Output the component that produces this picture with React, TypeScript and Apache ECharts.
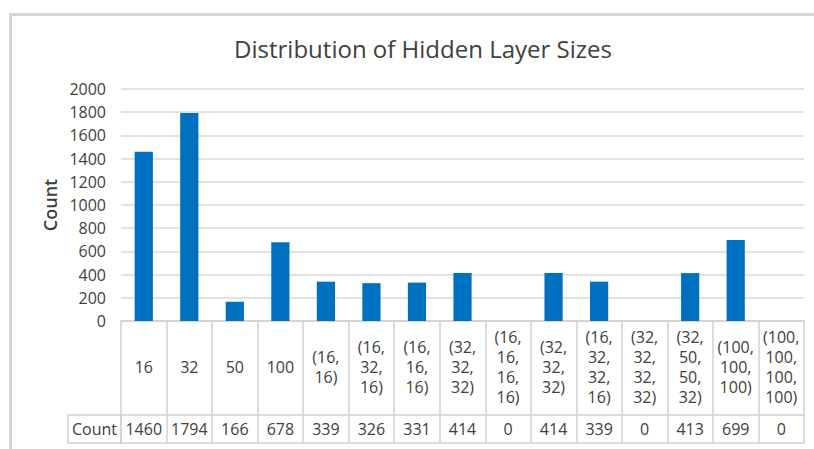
import React, { useEffect, useRef } from "react";
import * as echarts from "echarts";

const categories = [
  "16", "32", "50", "100",
  "(16,\n16)", "(16,\n32,\n16)", "(16,\n16,\n16)", "(32,\n32,\n32)",
  "(16,\n16,\n16,\n16)", "(32,\n32,\n32)", "(16,\n32,\n32,\n16)", "(32,\n32,\n32,\n32)",
  "(32,\n50,\n50,\n32)", "(100,\n100,\n100)", "(100,\n100,\n100,\n100)",
];
const counts = [1460, 1794, 166, 678, 339, 326, 331, 414, 0, 414, 339, 0, 413, 699, 0];
const seriesName = "Count";
const titleText = "Distribution of Hidden Layer Sizes";

const FONT = "'Open Sans', 'Noto Sans', sans-serif";
const TEXT = "#404040";
const LINE = "#d0d0d0";

export default function App() {
  const ref = useRef<HTMLDivElement>(null);
  useEffect(() => {
    if (!ref.current) return;
    const chart = echarts.init(ref.current, null, { renderer: "svg" });
    chart.setOption({
      animation: false,
      backgroundColor: "#ffffff",
      textStyle: { fontFamily: FONT },
      title: {
        text: titleText,
        left: 418,
        textAlign: "center",
        top: 31,
        textStyle: { fontSize: 24, fontWeight: "normal", color: TEXT, fontFamily: FONT },
      },
      grid: { left: 121, right: 10, top: 89, bottom: 128, containLabel: false },
      yAxis: {
        type: "value",
        min: 0,
        max: 2000,
        interval: 200,
        name: seriesName,
        nameLocation: "middle",
        nameGap: 62,
        nameRotate: 90,
        nameTextStyle: { fontSize: 18, color: TEXT, fontWeight: 600, fontFamily: FONT },
        axisLine: { show: false },
        axisTick: { show: false },
        axisLabel: {
          fontSize: 16,
          color: TEXT,
          margin: 15,
          fontFamily: FONT,
          formatter: (v: number) => String(v),
        },
        splitLine: { lineStyle: { color: "#d9d9d9", width: 1.5 } },
      },
      xAxis: [
        {
          type: "category",
          data: categories,
          position: "bottom",
          axisLine: { show: true, lineStyle: { color: LINE, width: 1.5 } },
          axisTick: { show: true, alignWithLabel: false, length: 122, lineStyle: { color: LINE, width: 1.5 } },
          axisLabel: {
            interval: 0,
            margin: 46,
            verticalAlign: "middle",
            lineHeight: 20,
            fontSize: 16,
            color: TEXT,
            fontFamily: FONT,
          },
        },
        {
          type: "category",
          data: categories,
          position: "bottom",
          offset: 94,
          axisLine: { show: true, lineStyle: { color: LINE, width: 1.5 } },
          axisTick: { show: false },
          axisLabel: {
            interval: 0,
            margin: 14,
            verticalAlign: "middle",
            fontSize: 16,
            color: TEXT,
            fontFamily: FONT,
            formatter: (_v: string, i: number) => String(counts[i]),
          },
        },
        {
          type: "category",
          data: categories,
          position: "bottom",
          offset: 122,
          axisLine: { show: true, lineStyle: { color: LINE, width: 1.5 } },
          axisTick: { show: false },
          axisLabel: { show: false },
        },
      ],
      series: [
        {
          name: seriesName,
          type: "bar",
          xAxisIndex: 0,
          data: counts,
          barWidth: "40%",
          itemStyle: { color: "#0070C0" },
        },
      ],
      graphic: [
        {
          type: "rect",
          shape: { x: 10.5, y: 14.5, width: 830, height: 460 },
          style: { fill: "none", stroke: "#d4d4d4", lineWidth: 3 },
          silent: true,
        },
        {
          type: "rect",
          shape: { x: 68, y: 415, width: 53, height: 28 },
          style: { fill: "none", stroke: LINE, lineWidth: 1.5 },
          silent: true,
        },
        {
          type: "text",
          x: 94.5,
          y: 429,
          style: {
            text: seriesName,
            fontSize: 16,
            fill: TEXT,
            fontFamily: FONT,
            align: "center",
            verticalAlign: "middle",
          },
          silent: true,
        },
      ],
    });
    return () => chart.dispose();
  }, []);
  return (
    <div
      ref={ref}
      style={{ position: "absolute", left: 0, top: 0, width: 814, height: 449 }}
    />
  );
}
